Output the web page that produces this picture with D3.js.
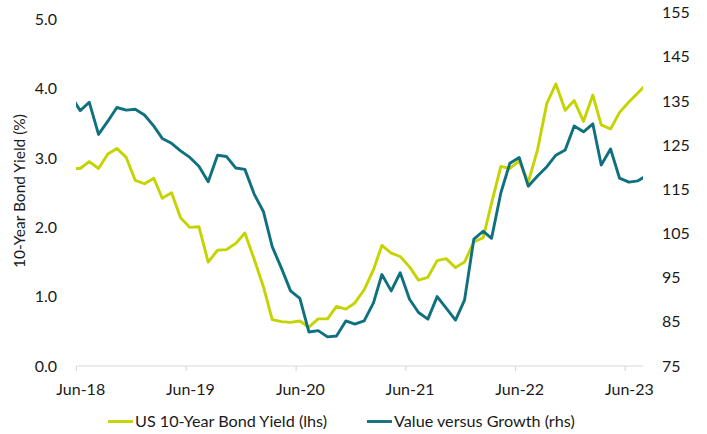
<!DOCTYPE html>
<html>
<head>
<meta charset="utf-8">
<script src="https://cdn.jsdelivr.net/npm/d3@7"></script>
<style>
  html, body { margin: 0; padding: 0; background: #fff; }
  svg text { font-family: Lato, "Open Sans", sans-serif; fill: #1a1a1a; }
</style>
</head>
<body>
<svg id="chart" width="707" height="434"></svg>
<script>
// ---- Data (monthly, May-18 .. Aug-23; ends are clipped by the plot area) ----
const months = [
  "2018-05","2018-06","2018-07","2018-08","2018-09","2018-10","2018-11","2018-12",
  "2019-01","2019-02","2019-03","2019-04","2019-05","2019-06","2019-07","2019-08","2019-09","2019-10","2019-11","2019-12",
  "2020-01","2020-02","2020-03","2020-04","2020-05","2020-06","2020-07","2020-08","2020-09","2020-10","2020-11","2020-12",
  "2021-01","2021-02","2021-03","2021-04","2021-05","2021-06","2021-07","2021-08","2021-09","2021-10","2021-11","2021-12",
  "2022-01","2022-02","2022-03","2022-04","2022-05","2022-06","2022-07","2022-08","2022-09","2022-10","2022-11","2022-12",
  "2023-01","2023-02","2023-03","2023-04","2023-05","2023-06","2023-07","2023-08"
];
const bondYield = [
  2.85,2.85,2.95,2.85,3.06,3.14,3.01,2.68,
  2.63,2.71,2.42,2.50,2.14,2.00,2.01,1.50,1.67,1.68,1.77,1.92,
  1.54,1.14,0.67,0.64,0.63,0.65,0.56,0.68,0.68,0.86,0.82,0.91,
  1.10,1.39,1.74,1.63,1.58,1.43,1.24,1.28,1.52,1.55,1.42,1.50,
  1.79,1.85,2.35,2.88,2.85,2.96,2.65,3.12,3.79,4.07,3.69,3.83,
  3.53,3.91,3.48,3.42,3.66,3.81,3.94,4.08
];
const valueVsGrowth = [
  136.1,132.8,134.7,127.4,130.4,133.5,132.9,133.1,
  131.8,129.3,126.5,125.4,123.7,122.2,120.2,116.7,122.7,122.4,119.8,119.5,
  113.9,109.9,102.0,97.1,92.0,90.3,82.7,83.0,81.6,81.8,85.2,84.5,
  85.2,89.3,95.7,92.0,96.1,90.1,87.1,85.6,90.7,88.1,85.4,89.9,
  103.7,105.5,103.9,114.2,120.9,122.2,115.7,118.0,120.1,122.7,123.9,129.3,
  128.0,129.8,120.5,124.1,117.5,116.6,116.9,118.2
];
const leftTicks = [0, 1, 2, 3, 4, 5];
const rightTicks = [75, 85, 95, 105, 115, 125, 135, 145, 155];
const xTickYears = [2018, 2019, 2020, 2021, 2022, 2023];
const seriesNames = ["US 10-Year Bond Yield (lhs)", "Value versus Growth (rhs)"];
const yTitle = "10-Year Bond Yield (%)";

// ---- Layout ----
const COL_YIELD = "#c5d400";
const COL_VG = "#0f717f";
const plotLeft = 76, plotRight = 643, plotBottom = 366;

const svg = d3.select("#chart");
const parse = d3.timeParse("%Y-%m");
const pointDate = m => d3.timeDay.offset(parse(m), 14);

const x = d3.scaleTime()
  .domain([new Date(2018, 5, 1), new Date(2023, 7, 1)])
  .range([plotLeft, plotRight]);
const yL = d3.scaleLinear().domain([0, 5]).range([plotBottom, 19.5]);
const yR = d3.scaleLinear().domain([75, 155]).range([plotBottom, 12.5]);

svg.append("clipPath").attr("id", "plotclip")
  .append("rect").attr("x", plotLeft).attr("y", 0)
  .attr("width", plotRight - plotLeft).attr("height", 434);

// x axis line + ticks
svg.append("line")
  .attr("x1", plotLeft).attr("x2", plotRight)
  .attr("y1", plotBottom).attr("y2", plotBottom)
  .attr("stroke", "#d9d9d9").attr("stroke-width", 1.2);

const xTicksAxis = d3.axisBottom(x)
  .tickValues(xTickYears.map(yr => new Date(yr, 5, 1)))
  .tickSize(5).tickFormat("");
const gxt = svg.append("g").attr("transform", `translate(0,${plotBottom})`).call(xTicksAxis);
gxt.select(".domain").remove();
gxt.selectAll(".tick line").attr("stroke", "#d9d9d9").attr("stroke-width", 1.2);

const xLabelAxis = d3.axisBottom(x)
  .tickValues(xTickYears.map(yr => new Date(yr, 5, 15)))
  .tickSize(0).tickPadding(0)
  .tickFormat(d3.timeFormat("%b-%y"));
const gxl = svg.append("g").attr("transform", `translate(0,${plotBottom})`).call(xLabelAxis);
gxl.select(".domain").remove();
gxl.selectAll("text").attr("y", 29).attr("dy", null)
  .style("font-size", "16px").style("fill", "#1a1a1a");

// left axis
const gl = svg.append("g").attr("transform", "translate(57,0)")
  .call(d3.axisLeft(yL).tickValues(leftTicks).tickFormat(d3.format(".1f")).tickSize(0).tickPadding(0));
gl.select(".domain").remove();
gl.selectAll("text").style("font-size", "16px").style("fill", "#1a1a1a");

// right axis
const gr = svg.append("g").attr("transform", "translate(662,0)")
  .call(d3.axisRight(yR).tickValues(rightTicks).tickFormat(d3.format("d")).tickSize(0).tickPadding(0));
gr.select(".domain").remove();
gr.selectAll("text").style("font-size", "16px").style("fill", "#1a1a1a");

// y title
svg.append("text")
  .attr("transform", "translate(25,191) rotate(-90)")
  .attr("text-anchor", "middle")
  .style("font-size", "15.5px")
  .text(yTitle);

// lines
const gLines = svg.append("g").attr("clip-path", "url(#plotclip)");
const lineL = d3.line().x((d, i) => x(pointDate(months[i]))).y(d => yL(d));
const lineR = d3.line().x((d, i) => x(pointDate(months[i]))).y(d => yR(d));

gLines.append("path").datum(bondYield)
  .attr("d", lineL).attr("fill", "none")
  .attr("stroke", COL_YIELD).attr("stroke-width", 2.9).attr("stroke-linejoin", "round");
gLines.append("path").datum(valueVsGrowth)
  .attr("d", lineR).attr("fill", "none")
  .attr("stroke", COL_VG).attr("stroke-width", 2.9).attr("stroke-linejoin", "round");

// legend
const legend = [
  { name: seriesNames[0], color: COL_YIELD, x: 108 },
  { name: seriesNames[1], color: COL_VG, x: 367 }
];
const lg = svg.append("g");
legend.forEach(l => {
  lg.append("line").attr("x1", l.x).attr("x2", l.x + 25)
    .attr("y1", 421.5).attr("y2", 421.5)
    .attr("stroke", l.color).attr("stroke-width", 2.9);
  lg.append("text").attr("x", l.x + 27).attr("y", 427)
    .style("font-size", "16.2px").text(l.name);
});
</script>
</body>
</html>
